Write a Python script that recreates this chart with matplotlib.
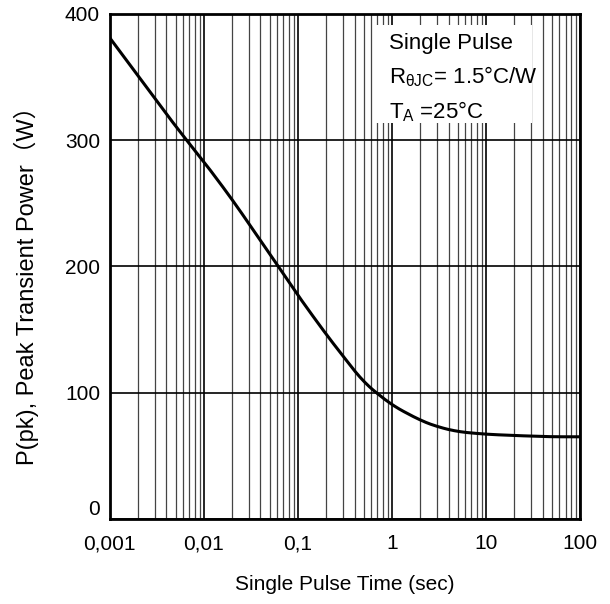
import matplotlib.pyplot as plt
import matplotlib.patches as mpatches
import numpy as np

plt.rcParams['font.family'] = ['Liberation Sans', 'DejaVu Sans']

# curve
t = [0.001, 0.002, 0.005, 0.01, 0.02, 0.05, 0.1, 0.2, 0.5, 1, 2, 3, 5, 10, 20, 50, 100]
p = [381, 351, 311, 283, 253, 210, 177, 146, 108, 90, 78, 73, 69, 67, 66, 65, 65]

xticks = [0.001, 0.01, 0.1, 1, 10, 100]
xlabels = ['0,001', '0,01', '0,1', '1', '10', '100']
yticks = [0, 100, 200, 300, 400]

fig = plt.figure(figsize=(6.1, 6.04), dpi=100)
ax = fig.add_axes([0.180, 0.141, 0.771, 0.836])

# smooth through the read points in log space
lt = np.log10(t)
xs = np.linspace(lt[0], lt[-1], 300)
ys = np.interp(xs, lt, p)
k = np.ones(15) / 15
ys_s = np.convolve(np.pad(ys, 7, mode='reflect', reflect_type='odd'), k, mode='valid')
ax.plot(10 ** xs, ys_s, color='black', lw=2.2, zorder=3)

ax.set_xscale('log')
ax.set_xlim(0.001, 100)
ax.set_ylim(0, 400)
ax.set_xticks(xticks)
ax.set_xticklabels(xlabels)
ax.set_yticks(yticks)
ax.tick_params(axis='both', which='both', length=0, labelsize=15)
ax.tick_params(axis='x', pad=11)
ax.tick_params(axis='y', pad=7)
ax.get_yticklabels()[0].set_va('bottom')

ax.grid(True, which='major', color='black', lw=1.2)
ax.grid(True, which='minor', axis='x', color='#444444', lw=0.9)
for s in ax.spines.values():
    s.set_linewidth(2)
    s.set_zorder(4)

ax.set_xlabel('Single Pulse Time (sec)', fontsize=15, labelpad=16)
ax.set_ylabel('P(pk), Peak Transient Power\uff08W\uff09', fontsize=17, labelpad=14,
              family=['Liberation Sans', 'Noto Sans CJK SC'])
ax.yaxis.set_label_coords(-0.15, 0.473)

ax.add_patch(mpatches.Rectangle((0.566, 0.784), 0.332, 0.194, transform=ax.transAxes,
                                facecolor='white', edgecolor='none', zorder=2.5))
txt = 'Single Pulse\n$\\mathregular{R_{\\theta JC}}$= 1.5\u00b0C/W\n$\\mathregular{T_A}$ =25\u00b0C'
ax.text(0.594, 0.962, txt, transform=ax.transAxes, fontsize=16, va='top', ha='left',
        linespacing=1.55, zorder=4)

fig.savefig('out.png', dpi=100)
